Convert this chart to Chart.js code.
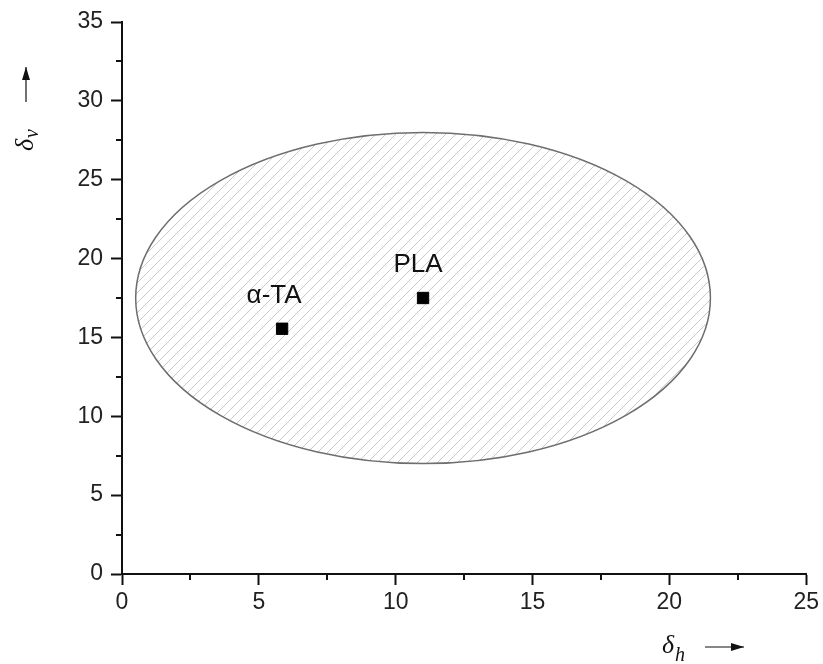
<!DOCTYPE html>
<html>
<head>
<meta charset="utf-8">
<script src="https://cdn.jsdelivr.net/npm/chart.js@4"></script>
<style>
  html, body { margin: 0; padding: 0; background: #fff; }
  canvas { display: block; }
</style>
</head>
<body>
<canvas id="chart" width="823" height="664"></canvas>
<script>
// Data
const pointLabels = ['α-TA', 'PLA'];
const deltaH = [5.85, 11.0];
const deltaV = [15.55, 17.5];
// solubility region (centre and radii in data units)
const regionCenter = [11.0, 17.5];
const regionRadius = [10.5, 10.5];
const xMinorTicks = [2.5, 7.5, 12.5, 17.5, 22.5];
const yMinorTicks = [2.5, 7.5, 12.5, 17.5, 22.5, 27.5, 32.5];

const tickFont = { family: "'Liberation Sans', Arial, sans-serif", size: 23 };

// diagonal hatch pattern
function makeHatch() {
    const c = document.createElement('canvas');
    c.width = 10; c.height = 10;
    const g = c.getContext('2d');
    g.strokeStyle = '#c9c9c9';
    g.lineWidth = 1;
    g.beginPath();
    g.moveTo(-5, 5); g.lineTo(5, -5);
    g.moveTo(0, 10); g.lineTo(10, 0);
    g.moveTo(5, 15); g.lineTo(15, 5);
    g.stroke();
    return g.createPattern(c, 'repeat');
}

const regionPlugin = {
    id: 'region',
    beforeDatasetsDraw(chart) {
        const { ctx, scales: { x, y } } = chart;
        const cx = x.getPixelForValue(regionCenter[0]);
        const cy = y.getPixelForValue(regionCenter[1]);
        const rx = x.getPixelForValue(regionCenter[0] + regionRadius[0]) - cx;
        const ry = cy - y.getPixelForValue(regionCenter[1] + regionRadius[1]);
        ctx.save();
        ctx.beginPath();
        ctx.ellipse(cx, cy, rx, ry, 0, 0, Math.PI * 2);
        ctx.fillStyle = makeHatch();
        ctx.fill();
        ctx.strokeStyle = '#6e6e6e';
        ctx.lineWidth = 1.5;
        ctx.stroke();
        ctx.restore();
    }
};

function arrow(ctx, x1, y1, x2, y2) {
    ctx.beginPath();
    ctx.moveTo(x1, y1);
    ctx.lineTo(x2, y2);
    ctx.stroke();
    const a = Math.atan2(y2 - y1, x2 - x1);
    ctx.beginPath();
    ctx.moveTo(x2, y2);
    ctx.lineTo(x2 - 13 * Math.cos(a) + 4 * Math.sin(a), y2 - 13 * Math.sin(a) - 4 * Math.cos(a));
    ctx.lineTo(x2 - 13 * Math.cos(a) - 4 * Math.sin(a), y2 - 13 * Math.sin(a) + 4 * Math.cos(a));
    ctx.closePath();
    ctx.fill();
}

const decorPlugin = {
    id: 'decor',
    afterDraw(chart) {
        const { ctx, scales: { x, y }, chartArea } = chart;
        ctx.save();
        ctx.strokeStyle = '#111';
        ctx.fillStyle = '#111';
        ctx.lineWidth = 2;
        // minor ticks
        ctx.beginPath();
        xMinorTicks.forEach(v => {
            const px = Math.round(x.getPixelForValue(v));
            ctx.moveTo(px, chartArea.bottom);
            ctx.lineTo(px, chartArea.bottom + 6);
        });
        yMinorTicks.forEach(v => {
            const py = Math.round(y.getPixelForValue(v));
            ctx.moveTo(chartArea.left, py);
            ctx.lineTo(chartArea.left - 6, py);
        });
        ctx.stroke();

        // point labels
        ctx.font = "26px 'Liberation Sans', Arial, sans-serif";
        ctx.fillStyle = '#111';
        ctx.textAlign = 'center';
        ctx.textBaseline = 'alphabetic';
        pointLabels.forEach((lab, i) => {
            const px = x.getPixelForValue(deltaH[i]);
            const py = y.getPixelForValue(deltaV[i]);
            ctx.fillText(lab, px - (i === 0 ? 8 : 5), py - 26);
        });

        // x axis title: δh →
        ctx.textAlign = 'left';
        ctx.font = "italic 26px 'Liberation Serif', 'DejaVu Serif', serif";
        ctx.fillText('δ', 662, 653);
        ctx.font = "italic 20px 'Liberation Serif', 'DejaVu Serif', serif";
        ctx.fillText('h', 675, 661);
        ctx.lineWidth = 1.2;
        arrow(ctx, 705, 647, 744, 647);

        // y axis title: δv ↑ (rotated)
        ctx.save();
        ctx.translate(33, 151);
        ctx.rotate(-Math.PI / 2);
        ctx.font = "italic 26px 'Liberation Serif', 'DejaVu Serif', serif";
        ctx.fillText('δ', 0, 0);
        ctx.font = "italic 20px 'Liberation Serif', 'DejaVu Serif', serif";
        ctx.fillText('v', 13, 5);
        ctx.restore();
        arrow(ctx, 26, 102, 26, 67);
        ctx.restore();
    }
};

new Chart(document.getElementById('chart'), {
    type: 'scatter',
    data: {
        datasets: [{
            data: deltaH.map((v, i) => ({ x: v, y: deltaV[i] })),
            pointStyle: 'rect',
            pointRadius: 8,
            pointHoverRadius: 8,
            backgroundColor: '#000',
            borderColor: '#000',
            borderWidth: 1
        }]
    },
    options: {
        responsive: false,
        animation: false,
        layout: { padding: { top: 22, right: 15, left: 0, bottom: 0 } },
        plugins: {
            legend: { display: false },
            tooltip: { enabled: false }
        },
        scales: {
            x: {
                type: 'linear',
                min: 0, max: 25,
                afterFit: s => { s.height = 90; },
                border: { color: '#111', width: 2 },
                grid: { drawOnChartArea: false, tickLength: 11, tickColor: '#111', tickWidth: 2 },
                ticks: { stepSize: 5, color: '#222', font: tickFont, padding: 4, maxRotation: 0 }
            },
            y: {
                type: 'linear',
                min: 0, max: 35,
                afterFit: s => { s.width = 122; },
                border: { color: '#111', width: 2 },
                grid: { drawOnChartArea: false, tickLength: 11, tickColor: '#111', tickWidth: 2 },
                ticks: { stepSize: 5, color: '#222', font: tickFont, padding: 8 }
            }
        }
    },
    plugins: [regionPlugin, decorPlugin]
});
</script>
</body>
</html>
